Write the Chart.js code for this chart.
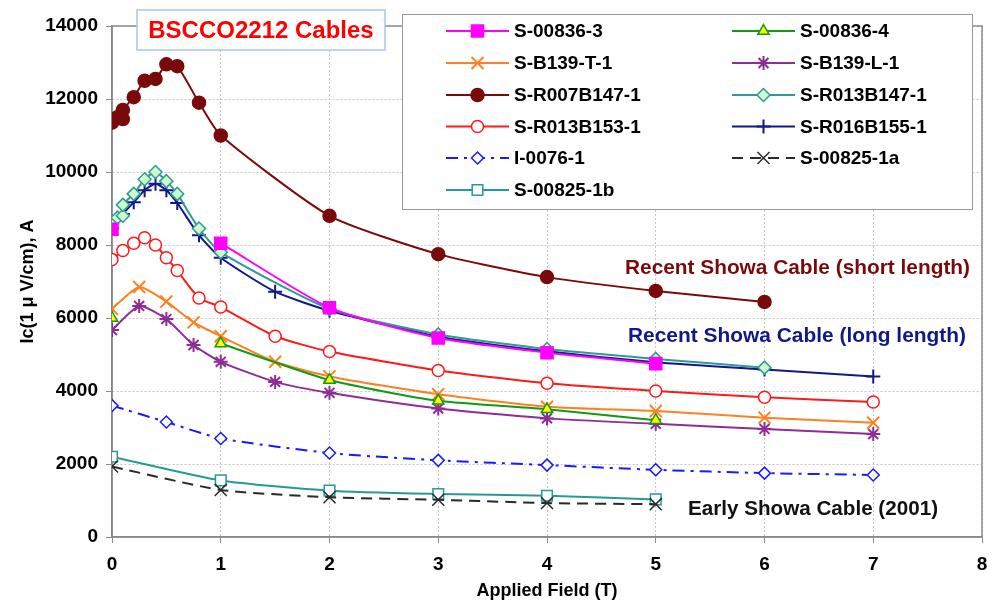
<!DOCTYPE html>
<html>
<head>
<meta charset="utf-8">
<script src="https://cdn.jsdelivr.net/npm/chart.js@4.4.0/dist/chart.umd.min.js"></script>
<style>
html, body { margin: 0; padding: 0; background: #fff; }
#wrap { width: 996px; height: 603px; }
</style>
</head>
<body>
<div id="wrap"><canvas id="MyChart" width="996" height="603"></canvas></div>
<script>
// applied field (T) and Ic (A)
const fieldDense = [0, 0.05, 0.1, 0.1, 0.2, 0.3, 0.4, 0.5, 0.6, 0.8, 1, 2, 3, 4, 5, 6];
const fieldFine = [0, 0.1, 0.2, 0.3, 0.4, 0.5, 0.6, 0.8, 1, 1.5, 2, 3, 4, 5, 6, 7];
const fieldB139 = [0, 0.25, 0.5, 0.75, 1, 1.5, 2, 3, 4, 5, 6, 7];
const field836 = [0, 0.5, 1, 2, 3, 4, 5];
const field0076 = [0, 0.5, 1, 2, 3, 4, 5, 6, 7];
const field825 = [0, 1, 2, 3, 4, 5];

const ic00836_3 = [8430, null, 8050, 6280, 5450, 5050, 4750];
const ic00836_4 = [6000, null, 5300, 4300, 3730, 3500, 3200];
const icB139T = [6250, 6850, 6450, 5880, 5500, 4800, 4400, 3910, 3570, 3450, 3270, 3130];
const icB139L = [5670, 6330, 5970, 5260, 4800, 4250, 3950, 3520, 3250, 3100, 2960, 2820];
const icR007B147 = [11350, 11500, 11450, 11700, 12050, 12500, 12550, 12950, 12900, 11900, 11000, 8800, 7750, 7120, 6740, 6440];
const icR013B147 = [8600, 8750, 8800, 9100, 9400, 9800, 10000, 9750, 9400, 8450, 7800, 6250, 5550, 5150, 4880, 4640];
const icR013B153 = [7600, 7850, 8050, 8200, 8000, 7650, 7300, 6550, 6300, 5500, 5080, 4560, 4210, 4000, 3830, 3700];
const icR016B155 = [8450, 8850, 9170, 9500, 9680, 9500, 9150, 8270, 7650, 6720, 6200, 5490, 5090, 4790, 4590, 4400];
const icI0076 = [3600, 3150, 2700, 2300, 2100, 1970, 1840, 1750, 1700];
const ic00825a = [1930, 1290, 1090, 1020, 930, 900];
const ic00825b = [2200, 1550, 1270, 1180, 1130, 1030];

const xTicks = [0, 1, 2, 3, 4, 5, 6, 7, 8];
const yTicks = [0, 2000, 4000, 6000, 8000, 10000, 12000, 14000];

function pts(xs, ys) {
    return xs.map((x, i) => ({ x: x, y: ys[i] }));
}

function series(label, xs, ys, color, style, extra) {
    return Object.assign({
        label: label,
        data: pts(xs, ys),
        showLine: true,
        borderColor: color,
        backgroundColor: color,
        pointBorderColor: color,
        pointBackgroundColor: color,
        borderWidth: 2,
        pointStyle: style,
        pointRadius: 6,
        pointBorderWidth: 1.5,
        tension: 0.2,
        spanGaps: false
    }, extra || {});
}

const datasets = [
    series('S-00836-3', field836, ic00836_3, '#ff00ff', 'rect', { pointRadius: 8.5 }),
    series('S-00836-4', field836, ic00836_4, '#129a12', 'triangle', { pointBackgroundColor: '#ffff00', pointRadius: 6.5 }),
    series('S-B139-T-1', fieldB139, icB139T, '#ff8020', 'crossRot', { pointBorderWidth: 2, pointRadius: 8.5 }),
    series('S-B139-L-1', fieldB139, icB139L, '#8e2d96', 'star', { pointBorderWidth: 2, pointRadius: 7 }),
    series('S-R007B147-1', fieldDense, icR007B147, '#7a0a0a', 'circle', { pointRadius: 6.5 }),
    series('S-R013B147-1', fieldDense, icR013B147, '#2f9a96', 'rectRot', { pointBackgroundColor: '#ccffcc', pointRadius: 6.5 }),
    series('S-R013B153-1', fieldFine, icR013B153, '#ff1a1a', 'circle', { pointBackgroundColor: '#ffffff', pointRadius: 6 }),
    series('S-R016B155-1', fieldFine, icR016B155, '#10188a', 'cross', { pointBorderWidth: 2, pointRadius: 7 }),
    series('I-0076-1', field0076, icI0076, '#1a1aff', 'rectRot', { pointBackgroundColor: '#ffffff', pointRadius: 6, borderDash: [12, 6, 3, 6] }),
    series('S-00825-1a', field825, ic00825a, '#2a2a2a', 'crossRot', { borderDash: [11, 7], pointRadius: 8.5 }),
    series('S-00825-1b', field825, ic00825b, '#259a96', 'rect', { pointBackgroundColor: '#ffffff', pointRadius: 7.5 })
];

function drawMarker(ctx, ds, x, y) {
    ctx.save();
    ctx.setLineDash([]);
    ctx.fillStyle = ds.pointBackgroundColor;
    ctx.strokeStyle = ds.pointBorderColor;
    ctx.lineWidth = ds.pointBorderWidth;
    Chart.helpers.drawPoint(ctx, {
        pointStyle: ds.pointStyle, rotation: 0, radius: ds.pointRadius, borderWidth: ds.pointBorderWidth
    }, x, y);
    ctx.restore();
}

const framePlugin = {
    id: 'frame',
    beforeDatasetsDraw(chart) {
        const a = chart.chartArea, ctx = chart.ctx;
        ctx.save();
        ctx.strokeStyle = '#8a8a8a';
        ctx.lineWidth = 1.5;
        ctx.strokeRect(a.left, a.top, a.right - a.left, a.bottom - a.top);
        ctx.restore();
    }
};

const notesPlugin = {
    id: 'notes',
    afterDraw(chart) {
        const ctx = chart.ctx;
        ctx.save();
        // title box
        ctx.fillStyle = '#ffffff';
        ctx.fillRect(137, 10, 248, 40);
        ctx.strokeStyle = '#a9c4f0';
        ctx.lineWidth = 1.5;
        ctx.strokeRect(137, 10, 248, 40);
        ctx.fillStyle = '#ff0000';
        ctx.font = 'bold 24px "Liberation Sans", Arial, sans-serif';
        ctx.textAlign = 'center';
        ctx.textBaseline = 'middle';
        ctx.fillText('BSCCO2212 Cables', 261, 31);

        // group labels
        ctx.textAlign = 'left';
        ctx.font = 'bold 21px "Liberation Sans", Arial, sans-serif';
        ctx.fillStyle = '#7a0a0a';
        ctx.fillText('Recent Showa Cable (short length)', 625, 268, 345);
        ctx.fillStyle = '#10188a';
        ctx.fillText('Recent Showa Cable (long length)', 628, 336, 338);
        ctx.fillStyle = '#111111';
        ctx.fillText('Early Showa Cable (2001)', 688, 509, 250);

        // legend
        ctx.fillStyle = '#ffffff';
        ctx.fillRect(402, 14, 570, 195);
        ctx.strokeStyle = '#9a9a9a';
        ctx.lineWidth = 1;
        ctx.strokeRect(402.5, 14.5, 570, 195);
        const cols = [{ x1: 446, x2: 509, tx: 514 }, { x1: 732, x2: 795, tx: 800 }];
        const rows = [31, 63, 95, 126.5, 158, 190];
        ctx.font = 'bold 19px "Liberation Sans", Arial, sans-serif';
        chart.data.datasets.forEach((ds, i) => {
            const c = cols[i % 2], y = rows[Math.floor(i / 2)];
            ctx.save();
            ctx.strokeStyle = ds.borderColor;
            ctx.lineWidth = ds.borderWidth;
            ctx.setLineDash(ds.borderDash || []);
            ctx.beginPath();
            ctx.moveTo(c.x1, y);
            ctx.lineTo(c.x2, y);
            ctx.stroke();
            ctx.restore();
            drawMarker(ctx, ds, (c.x1 + c.x2) / 2, y);
            ctx.fillStyle = '#000000';
            ctx.textAlign = 'left';
            ctx.textBaseline = 'middle';
            ctx.fillText(ds.label, c.tx, y + 1);
        });
        ctx.restore();
    }
};

const tickFont = { family: '"Liberation Sans", Arial, sans-serif', size: 19, weight: 'bold' };

let chart = new Chart('MyChart', {
    type: 'scatter',
    data: { datasets: datasets },
    options: {
        responsive: false,
        animation: false,
        devicePixelRatio: 1,
        layout: { padding: { top: 26, right: 14, left: 0, bottom: 0 } },
        plugins: { legend: { display: false }, tooltip: { enabled: false } },
        scales: {
            x: {
                type: 'linear',
                min: xTicks[0],
                max: xTicks[xTicks.length - 1],
                afterBuildTicks: (s) => { s.ticks = xTicks.map(v => ({ value: v })); },
                afterFit: (s) => { s.height = 66; },
                ticks: {
                    font: Object.assign({}, tickFont, { lineHeight: 2.0 }),
                    color: '#000', padding: 3, callback: (v) => String(v)
                },
                grid: { color: '#c4c4c4', tickColor: '#8a8a8a', tickLength: 6 },
                border: { color: '#8a8a8a', width: 1.5, dash: [2, 2] },
                title: {
                    display: true, text: 'Applied Field (T)', color: '#000',
                    font: { family: '"Liberation Sans", Arial, sans-serif', size: 18, weight: 'bold' },
                    padding: { top: 0, bottom: 1 }
                }
            },
            y: {
                min: yTicks[0],
                max: yTicks[yTicks.length - 1],
                afterBuildTicks: (s) => { s.ticks = yTicks.map(v => ({ value: v })); },
                afterFit: (s) => { s.width = 112; },
                ticks: { font: tickFont, color: '#000', padding: 8, callback: (v) => String(v) },
                grid: { color: '#c4c4c4', tickColor: '#8a8a8a', tickLength: 6 },
                border: { color: '#8a8a8a', width: 1.5, dash: [2, 2] },
                title: {
                    display: true, text: 'Ic(1 μ V/cm), A', color: '#000',
                    font: { family: '"Liberation Sans", Arial, sans-serif', size: 18, weight: 'bold' },
                    padding: { top: 17, bottom: 0 }
                }
            }
        }
    },
    plugins: [framePlugin, notesPlugin]
});
</script>
</body>
</html>
